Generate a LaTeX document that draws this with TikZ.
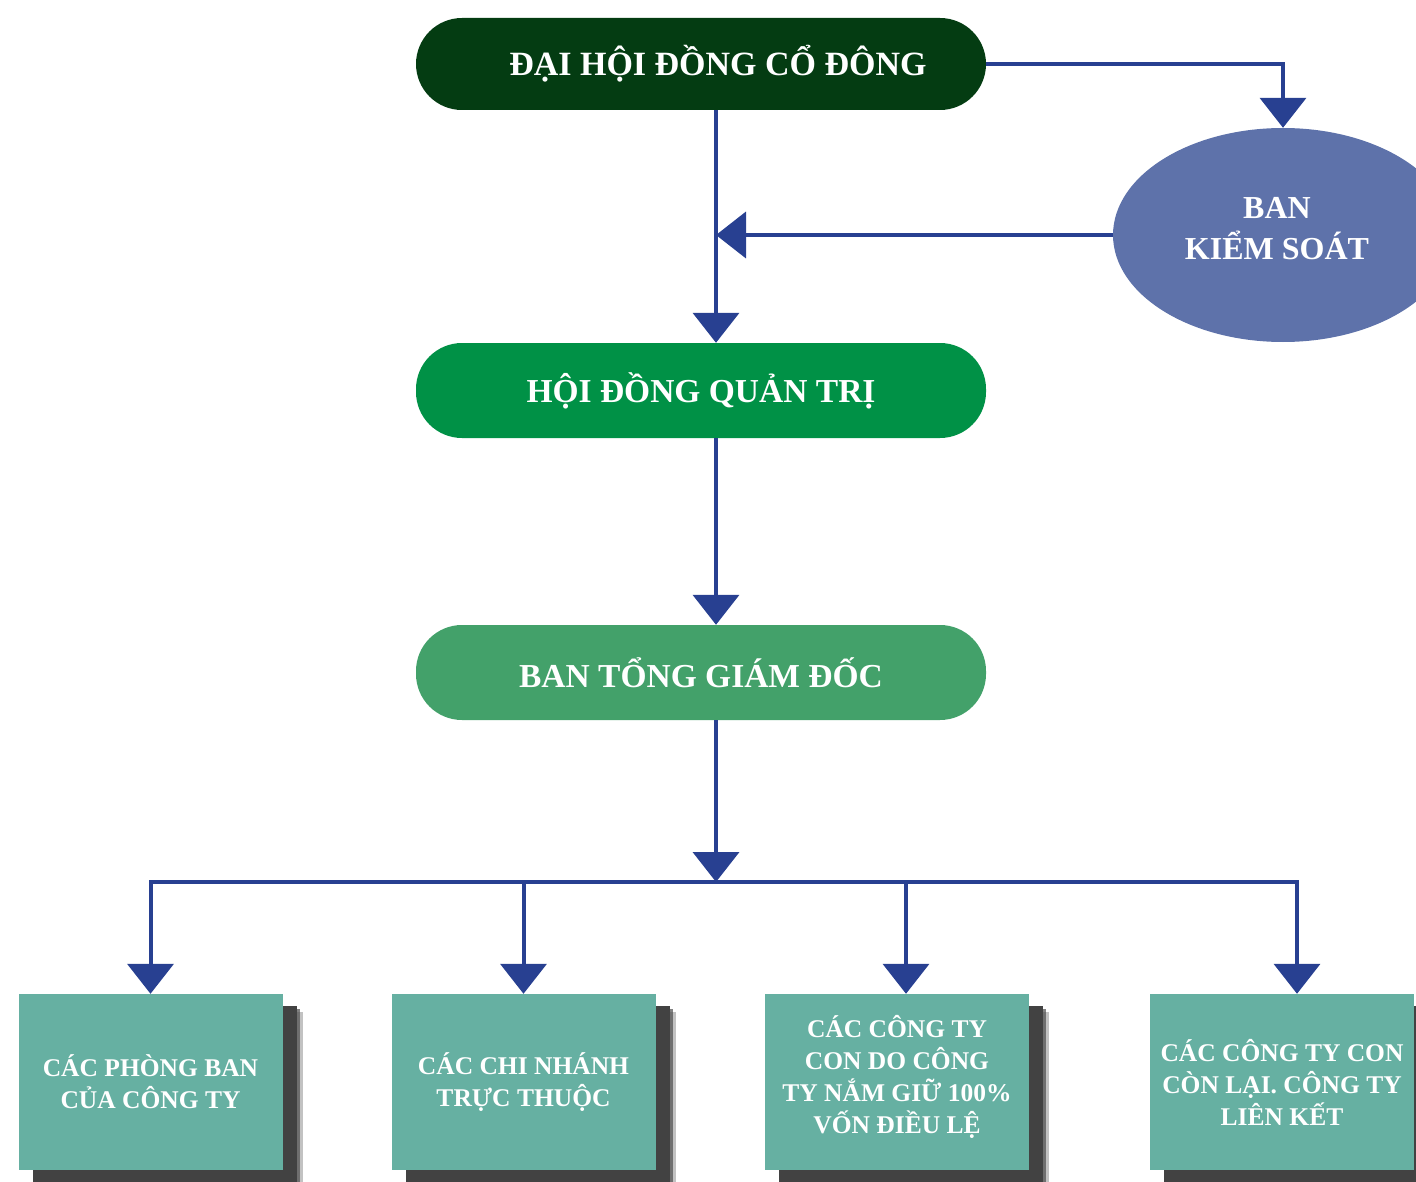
\documentclass[tikz,border=0pt]{standalone}
\usepackage{fontspec}
\setmainfont{Liberation Serif}
\usetikzlibrary{arrows.meta,shapes.geometric,shadows}

\definecolor{lineblue}{RGB}{40,64,145}
\definecolor{darkgreen}{RGB}{4,60,18}
\definecolor{boardgreen}{RGB}{0,145,70}
\definecolor{ceogreen}{RGB}{67,161,106}
\definecolor{auditblue}{RGB}{94,114,170}
\definecolor{unitteal}{RGB}{102,176,162}

\tikzset{
  wire/.style={draw=lineblue, line width=4pt},
  flow/.style={wire, -{Triangle[length=30pt,width=46pt]}},
  headbox/.style={rounded corners=46pt, minimum width=570pt, inner sep=0pt,
    text=white, font=\bfseries\fontsize{33.5}{40}\selectfont},
  unitbox/.style={fill=unitteal, minimum width=264pt, minimum height=176pt,
    inner sep=0pt, text=white, align=center,
    font=\bfseries\fontsize{25.5}{32}\selectfont,
    drop shadow={shadow xshift=20pt, shadow yshift=-18pt, fill=black!60, opacity=0.4},
    drop shadow={shadow xshift=17pt, shadow yshift=-15pt, fill=black!70, opacity=0.7},
    drop shadow={shadow xshift=14pt, shadow yshift=-12pt, fill=black!74, opacity=1}}
}

\begin{document}
\begin{tikzpicture}[x=1pt,y=-1pt]
\useasboundingbox (0,0) rectangle (1416,1182);

% top levels
\node [headbox, fill=darkgreen, minimum height=92pt, font=\bfseries\fontsize{34}{40}\selectfont] (dhdcd) at (701,64) {\hspace*{34pt}ĐẠI HỘI ĐỒNG CỔ ĐÔNG};
\node [headbox, fill=boardgreen, minimum height=95pt] (hdqt) at (701,390.5) {HỘI ĐỒNG QUẢN TRỊ};
\node [headbox, fill=ceogreen, minimum height=95pt] (btgd) at (701,672.5) {BAN TỔNG GIÁM ĐỐC};
\node [ellipse, fill=auditblue, minimum width=340pt, minimum height=214pt, inner sep=0pt,
  text=white, align=center, text depth=14pt,
  font=\bfseries\fontsize{32}{41}\selectfont] (bks) at (1283,235) {BAN\hspace*{12pt}\\KIỂM SOÁT\hspace*{12pt}};

% units
\node [unitbox] (p1) at (150.5,1082) {CÁC PHÒNG BAN\\CỦA CÔNG TY};
\node [unitbox] (p2) at (523.5,1082) {CÁC CHI NHÁNH\\TRỰC THUỘC};
\node [unitbox, text depth=16pt] (p3) at (897,1082) {CÁC CÔNG TY\\CON DO CÔNG\\TY NẮM GIỮ 100\%\\VỐN ĐIỀU LỆ};
\node [unitbox] (p4) at (1282,1082) {CÁC CÔNG TY CON\\CÒN LẠI. CÔNG TY\\LIÊN KẾT};

\coordinate (trunk) at (716,0);
\coordinate (bus) at (716,882);
\coordinate (b1) at (p1.north);
\coordinate (b2) at (p2.north);
\coordinate (b3) at ([xshift=9pt]p3.north);
\coordinate (b4) at ([xshift=15pt]p4.north);

% connectors
\draw [flow] (dhdcd.east) -| (bks.north);
\draw [flow] (bks.west) -- (bks.west -| trunk);
\draw [flow] (dhdcd.south -| trunk) -- (hdqt.north -| trunk);
\draw [flow] (hdqt.south -| trunk) -- (btgd.north -| trunk);
\draw [flow] (btgd.south -| trunk) -- (bus);
\draw [flow] (bus) -| (b1);
\draw [flow] (bus) -| (b4);
\draw [flow] (bus -| b2) -- (b2);
\draw [flow] (bus -| b3) -- (b3);
\end{tikzpicture}
\end{document}
